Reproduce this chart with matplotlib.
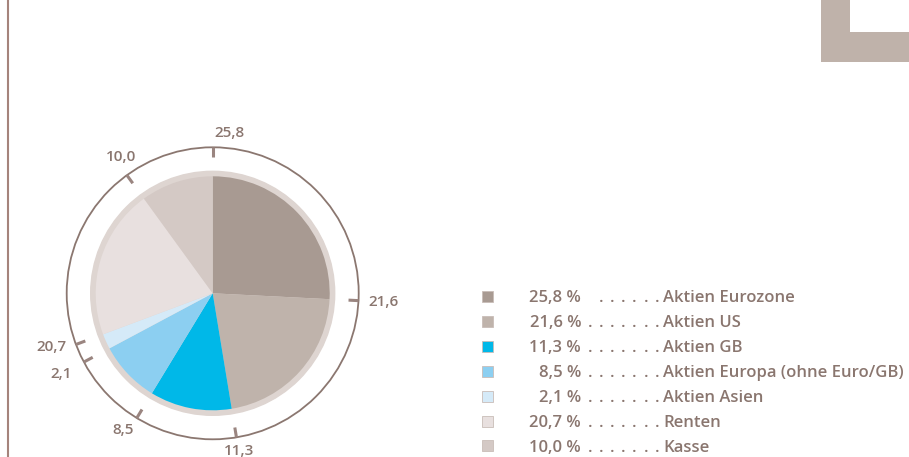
import numpy as np
import matplotlib.pyplot as plt
from matplotlib.patches import Circle, Rectangle

# ─── Data ─────────────────────────────────────────────────────────────────────

names  = ["Aktien Eurozone", "Aktien US", "Aktien GB",
          "Aktien Europa (ohne Euro/GB)", "Aktien Asien", "Renten", "Kasse"]
values = [25.8, 21.6, 11.3, 8.5, 2.1, 20.7, 10.0]
colors = ["#a89a92", "#bfb3ab", "#00b8e8", "#8ccff1", "#d5eaf8", "#e8e0df", "#d4c9c5"]
n_dots = [6, 7, 7, 7, 7, 7, 7]

TXT = "#8a766f"
LINE = "#8b7770"

def fmt(v):
    return f"{v:.1f}".replace(".", ",")

# ─── Figure (1 data unit = 1 pixel) ───────────────────────────────────────────

plt.rcParams['font.family'] = ['Open Sans', 'DejaVu Sans']
fig = plt.figure(figsize=(9.09, 4.57), dpi=100)
ax = fig.add_axes([0, 0, 1, 1])

H = 457
cx, cy = 212.7, H - 293.3
r_pie, r_ring, r_outer = 117, 122, 146

ax.add_patch(Circle((cx, cy), r_ring, color="#ded5d1", zorder=1))
ax.pie(values, colors=colors, startangle=90, counterclock=False,
       center=(cx, cy), radius=r_pie, wedgeprops=dict(linewidth=0),
       frame=True)
ax.add_patch(Circle((cx, cy), r_outer, fill=False, ec=LINE, lw=1.3, zorder=3))

# ticks at slice boundaries + labels
cum = np.concatenate([[0], np.cumsum(values)[:-1]])
nudge = [6, 0, 0, 2, 0, 2, 2]      # small angular shift of labels (deg)
r_lab = [161, 171, 160, 163, 172, 170, 164]
for c, v, dn, rl in zip(cum, values, nudge, r_lab):
    a = np.deg2rad(c / 100 * 360)
    s, co = np.sin(a), np.cos(a)
    ax.plot([cx + 136 * s, cx + r_outer * s], [cy + 136 * co, cy + r_outer * co],
            color="#9a8580", lw=2.2, solid_capstyle="butt", zorder=4)
    al = np.deg2rad(c / 100 * 360 + dn)
    ax.text(cx + rl * np.sin(al), cy + rl * np.cos(al), fmt(v),
            ha="center", va="center", fontsize=11, color=TXT, fontweight="semibold")

# ─── Legend ───────────────────────────────────────────────────────────────────

base0, step = 302.5, 24.9
for i, (n, v, col, nd) in enumerate(zip(names, values, colors, n_dots)):
    yb = H - (base0 + i * step)          # text baseline
    ax.add_patch(Rectangle((481.5, yb + 0.5), 11, 11, fc=col, ec="#c9bdb8", lw=0.6))
    ax.text(581, yb, f"{fmt(v)} %", ha="right", va="baseline",
            fontsize=12, color=TXT, fontweight="semibold")
    for k in range(nd):
        ax.text(657 - k * 11.2, yb, ".", ha="center", va="baseline",
                fontsize=12, color=TXT, fontweight="semibold")
    ax.text(663, yb, n, ha="left", va="baseline",
            fontsize=12, color=TXT, fontweight="semibold")

# ─── Decoration ───────────────────────────────────────────────────────────────

ax.plot([8, 8], [0, H], color="#a5847c", lw=1.5)
ax.add_patch(Rectangle((821, H - 62), 29, 62, fc="#bfb2aa", ec="none"))
ax.add_patch(Rectangle((821, H - 62), 88, 30, fc="#bfb2aa", ec="none"))

ax.set_xlim(0, 909)
ax.set_ylim(0, H)
ax.set_aspect("auto")
ax.axis("off")

fig.savefig("out.png", dpi=100)
